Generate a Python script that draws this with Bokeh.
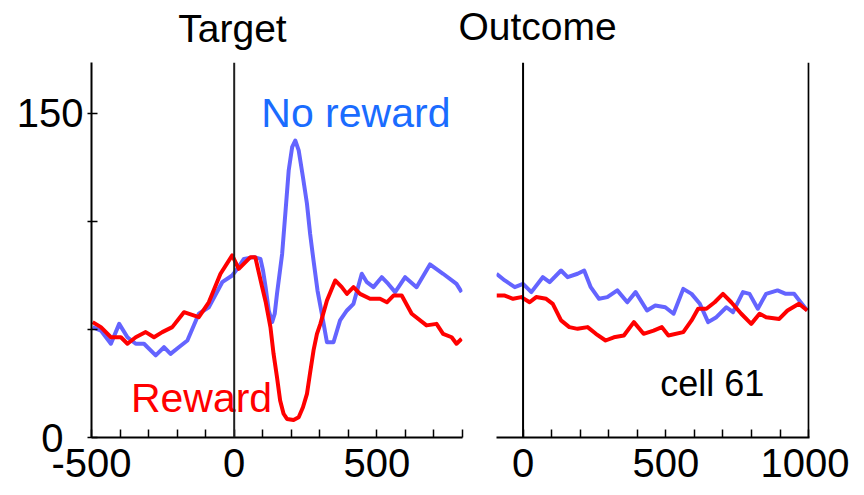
from bokeh.plotting import figure
from bokeh.models import Span, Label, FixedTicker, Range1d
from bokeh.layouts import row, column
from bokeh.embed import file_html
from bokeh.resources import INLINE

# ---------------- data (time in ms, firing rate in spikes/s) ----------------
target_t_reward = [-496, -467, -432, -397, -374, -345, -310, -281, -252, -217, -176, -124, -89, -48, -7,
                   16, 57, 74, 98, 110, 127, 138, 150, 161, 173, 185, 208, 226, 241, 255, 266, 278, 290,
                   302, 325, 354, 377, 395, 418, 441, 476, 511, 535, 558, 587, 622, 674, 709, 732, 762,
                   779, 797]
target_fr_reward = [53.4, 51.1, 46.4, 46.4, 43.4, 46.4, 48.8, 46.4, 48.8, 51.1, 58.0, 55.7, 62.6, 75.8, 84.3,
                    78.1, 83.5, 83.5, 69.6, 63.0, 51.1, 38.7, 27.9, 17.1, 11.0, 8.6, 8.1, 9.4, 14.0, 20.2, 30.0, 40.3, 48.0,
                    52.6, 63.4, 72.7, 69.6, 66.5, 69.6, 66.5, 64.2, 64.2, 62.6, 65.7, 65.7, 57.3, 51.9, 52.6, 48.0, 46.4,
                    43.4, 45.7]

target_t_noreward = [-496, -467, -432, -403, -374, -345, -316, -275, -246, -223, -194, -164, -124, -89, -42,
                     -7, 11, 34, 69, 92, 101, 110, 121, 133, 142, 150, 168, 180, 191, 203, 214, 226, 241,
                     255, 266, 278, 292, 307, 325, 348, 371, 395, 418, 447, 465, 488, 517, 540, 564, 599,
                     639, 686, 732, 779, 797]
target_fr_noreward = [51.1, 49.5, 43.4, 52.6, 46.4, 43.4, 43.4, 38.0, 41.8, 38.7, 41.8, 44.9, 57.3, 60.3, 71.9,
                      75.0, 78.1, 82.7, 83.5, 82.7, 77.3, 69.6, 58.8, 53.4, 57.3, 66.5, 85.0, 105.0, 123.6, 134.4, 137.5, 132.9, 120.5,
                      108.2, 94.3, 81.9, 68.0, 57.3, 44.1, 44.1, 54.2, 58.8, 61.9, 75.8, 71.9, 69.6, 74.2, 71.1, 67.3, 74.2,
                      69.6, 80.1, 75.8, 71.1, 67.3]

outcome_t_reward = [-93, -64, -35, -6, 23, 46, 81, 104, 133, 162, 191, 226, 255, 289, 318, 353, 388, 422,
                    457, 486, 509, 561, 590, 613, 642, 671, 700, 729, 764, 799, 828, 851, 897, 926, 966, 995]
outcome_fr_reward = [65.7, 65.7, 64.2, 65.0, 62.6, 65.0, 64.2, 61.9, 54.2, 51.1, 50.3, 51.1, 48.0, 44.9, 46.4, 47.2, 53.4, 48.0,
                     49.5, 51.1, 47.2, 48.8, 54.2, 59.6, 59.6, 62.6, 66.5, 62.6, 57.3, 52.6, 57.3, 55.7, 54.9, 58.8, 61.9, 58.8]

outcome_t_noreward = [-93, -64, -29, 0, 29, 69, 93, 133, 156, 191, 214, 237, 266, 295, 330, 365, 394, 434, 463,
                      498, 527, 561, 590, 619, 648, 677, 712, 735, 770, 793, 822, 851, 891, 920, 949, 972, 995]
outcome_fr_noreward = [75.8, 72.7, 69.6, 71.1, 67.3, 74.2, 71.9, 77.3, 74.2, 75.8, 77.3, 69.6, 64.2, 65.0, 68.1, 62.6, 67.3, 58.8, 61.1,
                       60.3, 57.3, 68.8, 66.5, 61.9, 53.4, 55.7, 60.3, 58.0, 67.3, 66.5, 59.6, 66.5, 68.1, 66.5, 66.5, 62.6, 58.8]

y_major = [0, 150]
y_minor = [50, 100]
target_major = [-500, 0, 500]
target_minor = [-400, -300, -200, -100, 100, 200, 300, 400, 600, 700, 800]
outcome_major = [0, 500, 1000]
outcome_minor = [100, 200, 300, 400, 600, 700, 800, 900]

FONT = "Liberation Sans"
RED = "#ff0000"
BLUE = "#6464ff"
BLUE_TXT = "#1a6cff"

y_range = Range1d(0, 173.6)


def style_xaxis(p, major, minor):
    ax = p.xaxis[0]
    ax.ticker = FixedTicker(ticks=major, minor_ticks=minor)
    ax.major_label_overrides = {-500: "-500"}
    ax.axis_line_width = 2
    ax.axis_line_color = "black"
    ax.major_tick_in = 8
    ax.major_tick_out = 0
    ax.minor_tick_in = 8
    ax.minor_tick_out = 0
    ax.major_tick_line_width = 1.5
    ax.minor_tick_line_width = 1.5
    ax.major_tick_line_color = "black"
    ax.minor_tick_line_color = "black"
    ax.major_label_text_font = FONT
    ax.major_label_text_font_size = "40px"
    ax.major_label_text_color = "black"
    ax.major_label_standoff = 11


# ---------------- header strip with the panel titles ----------------
header = figure(width=849, height=62, x_range=Range1d(0, 849), y_range=Range1d(0, 62),
                x_axis_location=None, y_axis_location=None, min_border=0,
                output_backend="svg", toolbar_location=None)
header.outline_line_color = None
header.grid.visible = False
header.add_layout(Label(x=232, y=34, text="Target", text_color="black", text_font=FONT,
                        text_font_size="39px", text_baseline="alphabetic", text_align="center"))
header.add_layout(Label(x=537, y=36, text="Outcome", text_color="black", text_font=FONT,
                        text_font_size="39px", text_baseline="alphabetic", text_align="center"))

common = dict(height=433, y_range=y_range, output_backend="svg", toolbar_location=None,
              min_border_top=0, min_border_bottom=58, background_fill_color="white",
              border_fill_color="white")

# ---------------- left panel: Target ----------------
p1 = figure(width=480, x_range=Range1d(-500, 800), min_border_left=91, min_border_right=18, **common)
p1.outline_line_color = None
p1.grid.visible = False
style_xaxis(p1, target_major, target_minor)
yax = p1.yaxis[0]
yax.ticker = FixedTicker(ticks=y_major, minor_ticks=y_minor)
yax.major_label_overrides = {0: "0\u2002"}
yax.axis_line_width = 2
yax.axis_line_color = "black"
yax.major_tick_in = 6
yax.major_tick_out = 4
yax.minor_tick_in = 6
yax.minor_tick_out = 4
yax.major_tick_line_width = 1.5
yax.minor_tick_line_width = 1.5
yax.major_tick_line_color = "black"
yax.minor_tick_line_color = "black"
yax.major_label_text_font = FONT
yax.major_label_text_font_size = "40px"
yax.major_label_text_color = "black"
yax.major_label_standoff = 4

p1.line(target_t_noreward, target_fr_noreward, line_color=BLUE, line_width=4, line_join="round")
p1.line(target_t_reward, target_fr_reward, line_color=RED, line_width=4, line_join="round")

p1.add_layout(Label(x=95, y=150.4, text="No reward", text_color=BLUE_TXT, text_font=FONT,
                    text_font_size="41px", text_baseline="alphabetic", text_align="left"))
p1.add_layout(Label(x=-362, y=18.5, text="Reward", text_color=RED, text_font=FONT,
                    text_font_size="41px", text_baseline="alphabetic", text_align="left"))
p1.add_layout(Span(location=0, dimension="height", line_color="#202020", line_width=2))

# ---------------- right panel: Outcome ----------------
p2 = figure(width=369, x_range=Range1d(-93, 1003), y_axis_location=None,
            min_border_left=16, min_border_right=40, **common)
p2.outline_line_color = None
p2.grid.visible = False
style_xaxis(p2, outcome_major, outcome_minor)

p2.line(outcome_t_noreward, outcome_fr_noreward, line_color=BLUE, line_width=4, line_join="round")
p2.line(outcome_t_reward, outcome_fr_reward, line_color=RED, line_width=4, line_join="round")

p2.add_layout(Label(x=480, y=25, text="cell 61", text_color="black", text_font=FONT,
                    text_font_size="36px", text_baseline="alphabetic", text_align="left"))
p2.add_layout(Span(location=0, dimension="height", line_color="black", line_width=2))
p2.add_layout(Span(location=1000, dimension="height", line_color="black", line_width=2))

layout = column(header, row(p1, p2))
open("out.html", "w").write(file_html(layout, INLINE))
